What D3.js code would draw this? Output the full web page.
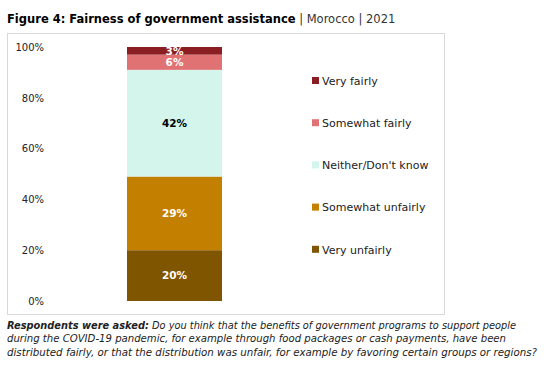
<!DOCTYPE html>
<html><head><meta charset="utf-8">
<script src="https://cdn.jsdelivr.net/npm/d3@7"></script>
<style>body{margin:0;background:#fff;} text{font-family:"DejaVu Sans",sans-serif;}</style>
</head><body>
<svg id="c" width="547" height="367"></svg>
<script>
const categories = ["Very unfairly","Somewhat unfairly","Neither/Don't know","Somewhat fairly","Very fairly"];
const values = [20, 29, 42, 6, 3];
const colors = ["#7f5500","#c27f00","#d3f5ec","#e07274","#8b1e22"];
const labelColors = ["#fff","#fff","#000","#fff","#fff"];
const yTicks = [0,20,40,60,80,100];
const legendOrder = ["Very fairly","Somewhat fairly","Neither/Don't know","Somewhat unfairly","Very unfairly"];

const svg = d3.select("#c");
// title
const t = svg.append("text").attr("x",7).attr("y",23).attr("font-size",11.5).attr("fill","#000");
t.append("tspan").attr("font-weight","bold").text("Figure 4: Fairness of government assistance");
t.append("tspan").attr("fill","#333").text(" |  Morocco  |  2021");

// frame
svg.append("rect").attr("x",7.5).attr("y",33.5).attr("width",437).attr("height",281)
  .attr("fill","none").attr("stroke","#d9d9d9").attr("stroke-width",1);

const y = d3.scaleLinear().domain([0,100]).range([301,47]);
const x = d3.scaleBand().domain(["Morocco"]).range([127,222]).padding(0);

const axis = d3.axisLeft(y).tickValues(yTicks).tickFormat(d=>d+"%").tickSize(0).tickPadding(0);
const ag = svg.append("g").attr("transform","translate(44,0)").call(axis);
ag.select(".domain").remove();
ag.selectAll("text").attr("font-size",10).attr("fill","#222").style("font-family","DejaVu Sans, sans-serif");

let cum = 0;
const stack = values.map((v,i)=>{const s={v,i,y0:cum,y1:cum+v}; cum+=v; return s;});
svg.selectAll("rect.bar").data(stack).join("rect").attr("class","bar")
  .attr("x",x("Morocco")).attr("width",x.bandwidth())
  .attr("y",d=>y(d.y1)).attr("height",d=>y(d.y0)-y(d.y1))
  .attr("fill",d=>colors[d.i]);
svg.selectAll("text.lbl").data(stack).join("text").attr("class","lbl")
  .attr("x",x("Morocco")+x.bandwidth()/2).attr("y",d=>(y(d.y0)+y(d.y1))/2)
  .attr("dy","0.36em").attr("text-anchor","middle").attr("font-size",10.5).attr("font-weight","bold")
  .attr("fill",d=>labelColors[d.i]).text(d=>d.v+"%");

// legend
const lg = svg.selectAll("g.lg").data(legendOrder).join("g").attr("class","lg")
  .attr("transform",(d,i)=>`translate(312,${81+i*42.2})`);
lg.append("rect").attr("x",0).attr("y",-4).attr("width",7).attr("height",7)
  .attr("fill",d=>colors[categories.indexOf(d)]);
lg.append("text").attr("x",10).attr("y",0).attr("dy","0.35em").attr("font-size",11).attr("fill","#222").text(d=>d);

// footnote
const notes = [
 [["Respondents were asked:",true],[" Do you think that the benefits of government programs to support people",false]],
 [["during the COVID-19 pandemic, for example through food packages or cash payments, have been",false]],
 [["distributed fairly, or that the distribution was unfair, for example by favoring certain groups or regions?",false]]
];
const noteWidths = [509, 499, 530];
notes.forEach((line,i)=>{
  const tx = svg.append("text").attr("x",7).attr("y",328.5+i*13.5).attr("font-size",10.2)
    .attr("font-style","italic").attr("fill","#222")
    .attr("textLength",noteWidths[i]).attr("lengthAdjust","spacingAndGlyphs");
  line.forEach(([s,b])=>tx.append("tspan").attr("font-weight",b?"bold":"normal").text(s));
});
</script>
</body></html>
